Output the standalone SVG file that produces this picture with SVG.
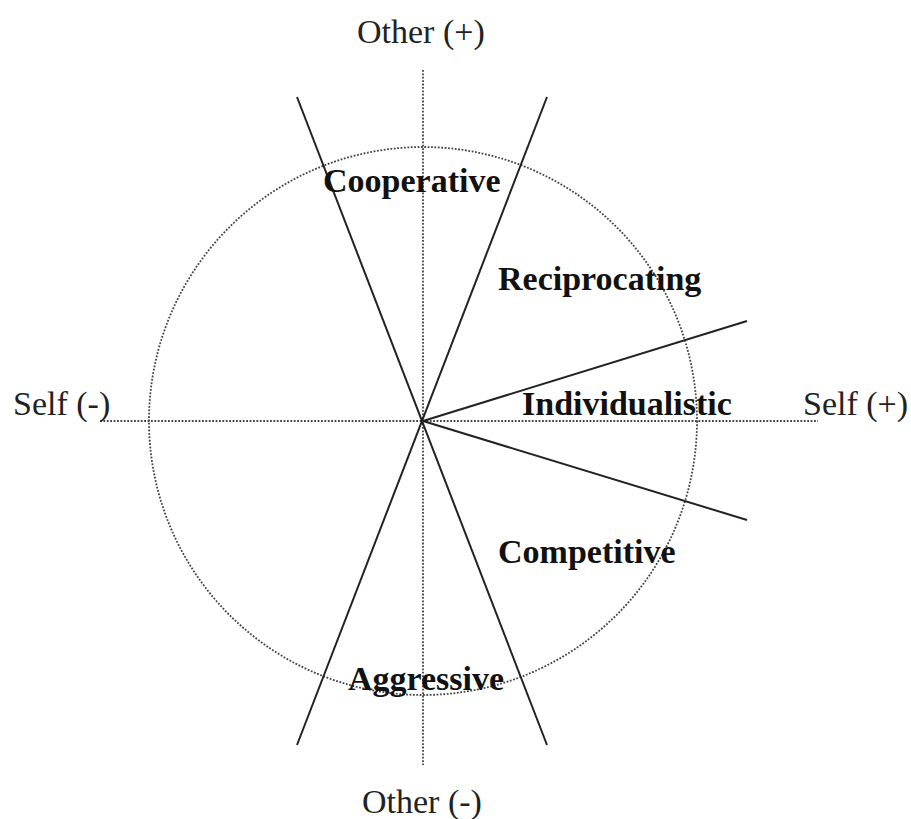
<svg xmlns="http://www.w3.org/2000/svg" width="911" height="819" viewBox="0 0 911 819">
<style>
.bg{fill:#fff}
.dot{fill:none;stroke:#444;stroke-width:1.8;stroke-dasharray:1.8 1.6}
.sol{stroke:#222;stroke-width:2;fill:none}
.ax{font-family:"Liberation Serif","Times New Roman",serif;font-size:34px;fill:#222}
.lb{font-family:"Liberation Serif","Times New Roman",serif;font-size:34px;font-weight:bold;fill:#111}
</style>
<rect class="bg" x="0" y="0" width="911" height="819"/>
<g id="axes">
<line class="dot" x1="423" y1="70" x2="423" y2="765"/>
<line class="dot" x1="100" y1="421" x2="818" y2="421"/>
<circle class="dot" cx="423" cy="421" r="274"/>
</g>
<g id="connectors">
<line class="sol" x1="297" y1="97" x2="547" y2="745"/>
<line class="sol" x1="547" y1="97" x2="297" y2="745"/>
<line class="sol" x1="423" y1="421" x2="747" y2="321"/>
<line class="sol" x1="423" y1="421" x2="747" y2="520"/>
</g>
<g id="axis-labels">
<text class="ax" x="357" y="43">Other (+)</text>
<text class="ax" x="362" y="813">Other (-)</text>
<text class="ax" x="13" y="415">Self (-)</text>
<text class="ax" x="803" y="415">Self (+)</text>
</g>
<g id="cooperative"><text class="lb" x="323" y="192">Cooperative</text></g>
<g id="reciprocating"><text class="lb" x="498" y="290">Reciprocating</text></g>
<g id="individualistic"><text class="lb" x="522" y="415">Individualistic</text></g>
<g id="competitive"><text class="lb" x="498" y="563">Competitive</text></g>
<g id="aggressive"><text class="lb" x="348" y="690">Aggressive</text></g>
</svg>
